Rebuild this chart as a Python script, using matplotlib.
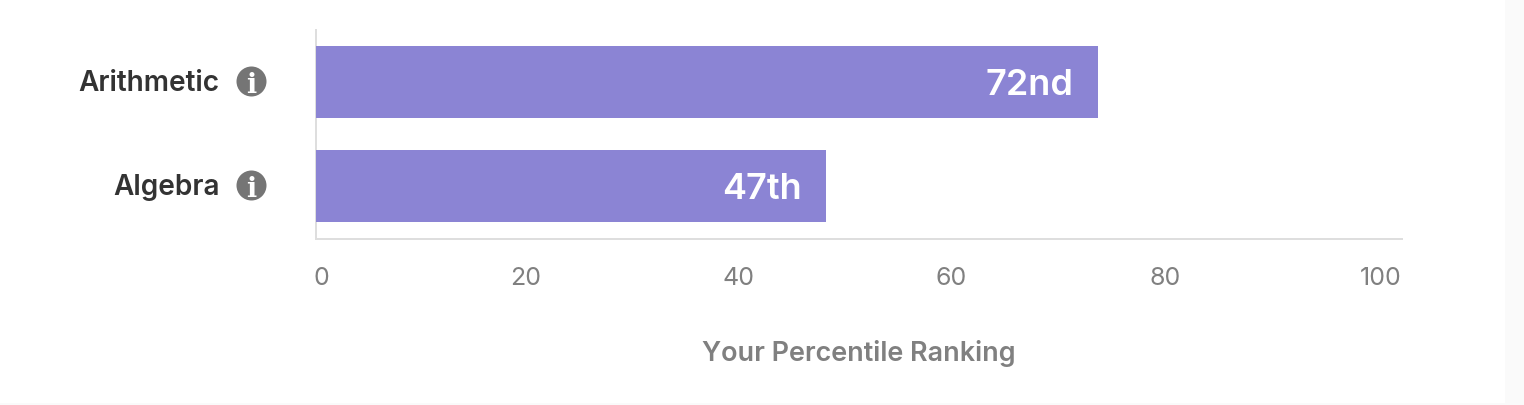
import matplotlib
matplotlib.use("Agg")
import matplotlib.pyplot as plt
from matplotlib.transforms import ScaledTranslation, blended_transform_factory
from matplotlib.patches import Rectangle

categories = ["Arithmetic", "Algebra"]
percentiles = [72, 47]
rank_labels = ["72nd", "47th"]
tick_values = [0, 20, 40, 60, 80, 100]
tick_labels = ["0", "20", "40", "60", "80", "100"]
# the tick labels are spread out, not centred on the value (pixels)
tick_shift = [6, -7, -12, -16, -20, -21]
x_title = "Your Percentile Ranking"

W, H = 1524, 406
px = 72 / 100  # one pixel in points

plt.rcParams['font.family'] = ['Inter', 'DejaVu Sans']

fig = plt.figure(figsize=(W / 100, H / 100), dpi=100, facecolor="#fafafa")
fig.add_artist(Rectangle((0, 2 / H), 1505 / W, 1 - 2 / H, transform=fig.transFigure,
                         facecolor="white", edgecolor="none", zorder=-5))

ax = fig.add_axes([315.6 / W, 1 - 240 / H, 1086.4 / W, 209 / H])
ax.patch.set_alpha(0)

y = list(range(len(categories)))
bars = ax.barh(y, percentiles, height=72 / 104, color="#8b84d4", linewidth=0, zorder=3)
ax.set_xlim(0, 100)
ax.set_ylim(1 + 53 / 104, -52 / 104)

for s in ["top", "right"]:
    ax.spines[s].set_visible(False)
for s in ["left", "bottom"]:
    ax.spines[s].set_color("#dedede")
    ax.spines[s].set_linewidth(2 * px)

ax.set_yticks(y)
ax.set_yticklabels(categories, fontsize=28 * px, fontweight="semibold", color="#333333",
                   va="center_baseline")
ax.tick_params(axis="y", length=0, pad=96 * px)
for lab in ax.get_yticklabels():
    lab.set_transform(lab.get_transform() + ScaledTranslation(0, 2.5 * px / 72, fig.dpi_scale_trans))

ax.set_xticks(tick_values)
ax.set_xticklabels(tick_labels, fontsize=25 * px, color="#808080")
ax.tick_params(axis="x", length=0, pad=27 * px)
for lab, dx in zip(ax.get_xticklabels(), tick_shift):
    lab.set_transform(lab.get_transform() + ScaledTranslation(dx * px / 72, 0, fig.dpi_scale_trans))

ax.set_xlabel(x_title, fontsize=27 * px, fontweight="semibold", color="#808080", labelpad=50 * px)

# rank text inside the bars
for yy, val, txt in zip(y, percentiles, rank_labels):
    ax.annotate(txt, xy=(val, yy), xytext=(-24 * px, 1.5 * px), textcoords="offset points",
                ha="right", va="center_baseline", color="white",
                fontsize=36 * px, fontweight="semibold", zorder=4)

# info icons left of the axis
icon_tf = blended_transform_factory(ax.transAxes, ax.transData)
icon_x = (251.5 - 316) / 1086
for yy in y:
    ax.annotate("", xy=(icon_x, yy), xycoords=icon_tf)
    ax.plot([icon_x], [yy], "o", ms=30 * px, mfc="#757575", mec="none", clip_on=False,
            transform=icon_tf + ScaledTranslation(0, 1 * px / 72, fig.dpi_scale_trans))
    ax.annotate("i", xy=(icon_x, yy), xycoords=icon_tf, xytext=(0, 1 * px),
                textcoords="offset points", ha="center", va="center_baseline",
                color="white", fontsize=27 * px, fontweight="bold", family="DejaVu Serif",
                annotation_clip=False)

fig.savefig("out.png", dpi=100, facecolor=fig.get_facecolor())
